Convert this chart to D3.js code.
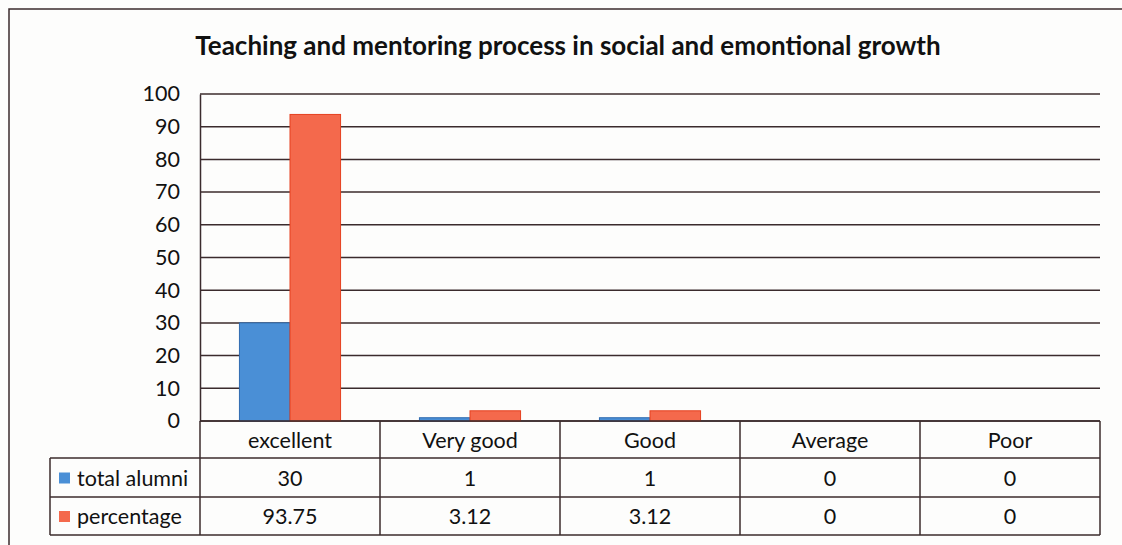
<!DOCTYPE html>
<html>
<head>
<meta charset="utf-8">
<script src="https://cdn.jsdelivr.net/npm/d3@7"></script>
<style>
  body { margin: 0; background: #fff; }
  text { font-family: Lato, "Open Sans", sans-serif; fill: #111; }
</style>
</head>
<body>
<div id="chart"></div>
<script>
// chart data
var categories = ["excellent", "Very good", "Good", "Average", "Poor"];
var seriesNames = ["total alumni", "percentage"];
var totalAlumni = [30, 1, 1, 0, 0];
var percentage = [93.75, 3.12, 3.12, 0, 0];
var tableLabels = [["30", "1", "1", "0", "0"], ["93.75", "3.12", "3.12", "0", "0"]];
var yTicks = [0, 10, 20, 30, 40, 50, 60, 70, 80, 90, 100];

var w = 1122;
var h = 545;
var lineColor = "#3b2b2d";
var colors = ["#4a8fd6", "#f4694c"];
var edges = ["#2f6bb0", "#e5401f"];
var fontSize = "21.5px";

// plot area
var plotLeft = 200, plotRight = 1100, plotTop = 94, zeroY = 421;

var svg = d3.select("#chart")
    .append("svg")
    .attr("width", w)
    .attr("height", h);

svg.append("rect").attr("width", w).attr("height", h).attr("fill", "#fdfdfc");

// outer frame (only top and left visible in the photo)
svg.append("path")
    .attr("d", "M9,545 L9,9 L1122,9")
    .attr("fill", "none")
    .attr("stroke", lineColor)
    .attr("stroke-width", 1.5);

svg.append("text")
    .attr("x", 568)
    .attr("y", 55)
    .attr("text-anchor", "middle")
    .style("font-size", "26px")
    .style("font-weight", "bold")
    .text("Teaching and mentoring process in social and emontional growth");

var x = d3.scaleBand()
    .domain(categories)
    .range([plotLeft, plotRight]);

var xs = d3.scaleBand()
    .domain(seriesNames)
    .range([0, x.bandwidth()])
    .paddingOuter(0.78)
    .paddingInner(0);

var y = d3.scaleLinear()
    .domain([0, 100])
    .range([zeroY, plotTop]);

// gridlines
svg.append("g")
    .selectAll("line")
    .data(yTicks)
    .enter()
    .append("line")
    .attr("x1", plotLeft)
    .attr("x2", plotRight)
    .attr("y1", (d) => y(d))
    .attr("y2", (d) => y(d))
    .attr("stroke", lineColor)
    .attr("stroke-width", 1.5);

// y axis labels
var yAxis = svg.append("g")
    .attr("transform", "translate(" + plotLeft + ",0)")
    .call(d3.axisLeft(y).tickValues(yTicks).tickSize(0).tickPadding(20));
yAxis.select(".domain").attr("stroke", lineColor).attr("stroke-width", 1.5);
yAxis.selectAll("text")
    .style("font-size", fontSize)
    .style("font-family", "Lato, 'Open Sans', sans-serif")
    .attr("fill", "#111");

// bars
var seriesData = [totalAlumni, percentage];
seriesData.forEach(function (vals, s) {
    svg.append("g")
        .selectAll("rect")
        .data(vals)
        .enter()
        .append("rect")
        .attr("x", (d, i) => x(categories[i]) + xs(seriesNames[s]))
        .attr("y", (d) => y(d))
        .attr("width", xs.bandwidth())
        .attr("height", (d) => zeroY - y(d))
        .attr("fill", colors[s])
        .attr("stroke", (d) => d > 0 ? edges[s] : "none")
        .attr("stroke-width", 1);
});

// data table
var rowY = [421, 458, 497, 535];
var legendLeft = 50;
var t = svg.append("g")
    .attr("stroke", lineColor)
    .attr("stroke-width", 1.5);

// horizontal lines
t.append("line").attr("x1", plotLeft).attr("x2", plotRight).attr("y1", rowY[0]).attr("y2", rowY[0]);
[1, 2, 3].forEach(function (r) {
    t.append("line").attr("x1", legendLeft).attr("x2", plotRight).attr("y1", rowY[r]).attr("y2", rowY[r]);
});
// vertical lines
categories.concat(["end"]).forEach(function (c, i) {
    var xx = i < categories.length ? x(c) : plotRight;
    t.append("line").attr("x1", xx).attr("x2", xx).attr("y1", rowY[0]).attr("y2", rowY[3]);
});
t.append("line").attr("x1", legendLeft).attr("x2", legendLeft).attr("y1", rowY[1]).attr("y2", rowY[3]);

// category labels
svg.append("g")
    .selectAll("text")
    .data(categories)
    .enter()
    .append("text")
    .attr("x", (d) => x(d) + x.bandwidth() / 2)
    .attr("y", (rowY[0] + rowY[1]) / 2 + 8)
    .attr("text-anchor", "middle")
    .style("font-size", fontSize)
    .text((d) => d);

// table values
tableLabels.forEach(function (row, r) {
    svg.append("g")
        .selectAll("text")
        .data(row)
        .enter()
        .append("text")
        .attr("x", (d, i) => x(categories[i]) + x.bandwidth() / 2)
        .attr("y", (rowY[r + 1] + rowY[r + 2]) / 2 + 8)
        .attr("text-anchor", "middle")
        .style("font-size", fontSize)
        .text((d) => d);
});

// legend cells
seriesNames.forEach(function (name, r) {
    var cy = (rowY[r + 1] + rowY[r + 2]) / 2;
    svg.append("rect")
        .attr("x", 59)
        .attr("y", cy - 5)
        .attr("width", 11)
        .attr("height", 11)
        .attr("fill", colors[r]);
    svg.append("text")
        .attr("x", 77)
        .attr("y", cy + 8)
        .style("font-size", fontSize)
        .text(name);
});
</script>
</body>
</html>
